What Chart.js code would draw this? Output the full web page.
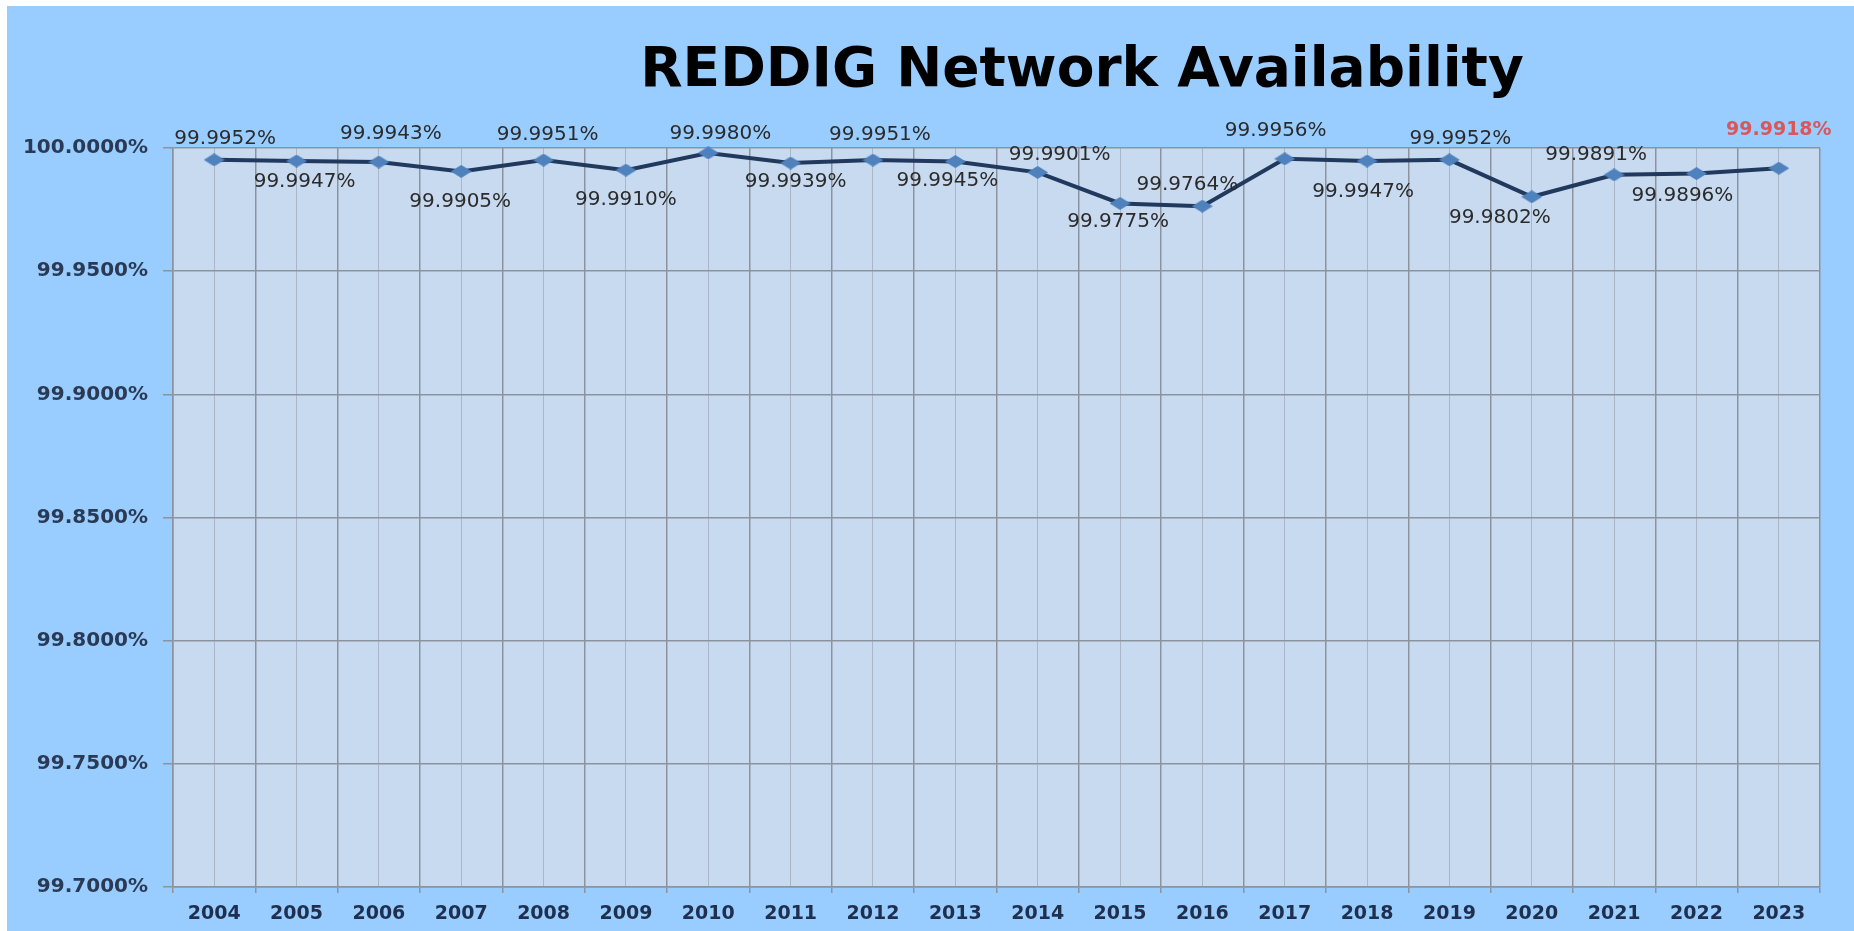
<!DOCTYPE html>
<html>
<head>
<meta charset="utf-8">
<script src="https://cdn.jsdelivr.net/npm/chart.js@4/dist/chart.umd.min.js"></script>
<style>
  html, body { margin: 0; padding: 0; background: #ffffff; width: 1854px; height: 931px; overflow: hidden; }
  #wrap { position: absolute; left: 7px; top: 6px; width: 1847px; height: 925px; background: #99CCFF; }
  canvas { display: block; }
</style>
</head>
<body>
<div id="wrap"><canvas id="c" width="1847" height="925"></canvas></div>
<script>
// ---- data ----
const years = ['2004','2005','2006','2007','2008','2009','2010','2011','2012','2013',
               '2014','2015','2016','2017','2018','2019','2020','2021','2022','2023'];
const availability = [99.9952, 99.9947, 99.9943, 99.9905, 99.9951, 99.9910, 99.9980, 99.9939, 99.9951, 99.9945,
                      99.9901, 99.9775, 99.9764, 99.9956, 99.9947, 99.9952, 99.9802, 99.9891, 99.9896, 99.9918];
const yMin = 99.70, yMax = 100.00, yStep = 0.05;
const titleText = 'REDDIG Network Availability';

// label placement (offset of label centre from its point, px)
const labelDx = [11, 8, 12, -1, 4, 0, 12, 5, 7, -8, 22, -2, -15, -9, -4, 11, -32, -18, -14, 0];
const labelDy = [-21, 21, -28, 30, -25, 30, -19, 19, -25, 19, -18, 18, -21, -28, 31, -21, 21, -20, 22, -38];

// diamond marker
const diamond = document.createElement('canvas');
diamond.width = 21; diamond.height = 13;
(function(){
  const g = diamond.getContext('2d');
  g.fillStyle = '#4F81BD';
  g.beginPath();
  g.moveTo(10.5, 0); g.lineTo(21, 6.5); g.lineTo(10.5, 13); g.lineTo(0, 6.5); g.closePath();
  g.fill();
})();

const plotBg = {
  id: 'plotBg',
  beforeDraw(chart) {
    const {ctx, chartArea: a} = chart;
    ctx.save();
    ctx.fillStyle = '#C8DAF0';
    ctx.fillRect(a.left, a.top, a.right - a.left, a.bottom - a.top);
    ctx.restore();
  }
};

const titleShift = {
  id: 'titleShift',
  afterLayout(chart) {
    const t = chart.titleBlock;
    if (!t) return;
    const w = t.right - t.left;
    const cx = 1075;
    t.left = cx - w / 2;
    t.right = cx + w / 2;
  }
};

const dataLabels = {
  id: 'dataLabels',
  afterDatasetsDraw(chart) {
    const {ctx} = chart;
    const meta = chart.getDatasetMeta(0);
    const vals = chart.data.datasets[0].data;
    ctx.save();
    ctx.textAlign = 'center';
    ctx.textBaseline = 'middle';
    meta.data.forEach((pt, i) => {
      const last = i === vals.length - 1;
      ctx.font = (last ? 'bold 19px' : '20px') + ' "DejaVu Sans"';
      ctx.fillStyle = last ? '#D9575A' : '#2B2B2B';
      ctx.fillText(vals[i].toFixed(4) + '%', pt.x + labelDx[i], pt.y + labelDy[i]);
    });
    ctx.restore();
  }
};

new Chart(document.getElementById('c'), {
  type: 'line',
  data: {
    labels: years,
    datasets: [{
      data: availability,
      borderColor: '#22395E',
      borderWidth: 4,
      tension: 0,
      pointStyle: diamond,
      pointRadius: 8,
      pointHoverRadius: 8,
      pointBackgroundColor: '#4F81BD',
      pointBorderColor: '#4F81BD',
      clip: false
    }]
  },
  options: {
    responsive: false,
    animation: false,
    events: [],
    layout: { padding: { top: 33, right: 34, bottom: 0, left: 0 } },
    plugins: {
      legend: { display: false },
      tooltip: { enabled: false },
      title: {
        display: true,
        text: titleText,
        color: '#000000',
        font: { family: '"DejaVu Sans"', size: 55, weight: 'bold' },
        padding: { top: 0, bottom: 43 }
      }
    },
    scales: {
      x: {
        type: 'category',
        offset: true,
        grid: { offset: true, color: '#8C939E', lineWidth: 1.5, tickLength: 6, drawOnChartArea: true },
        border: { color: '#8C939E', width: 1.5 },
        ticks: { color: '#1F2F4E', font: { family: '"DejaVu Sans"', size: 19, weight: 'bold' }, padding: 10, maxRotation: 0, autoSkip: false },
        afterFit(s) { s.height = 44; }
      },
      xMinor: {
        type: 'category',
        position: 'bottom',
        offset: true,
        grid: { offset: false, color: '#AAB6C8', lineWidth: 1, drawTicks: false },
        border: { display: false },
        ticks: { display: false },
        afterFit(s) { s.height = 0; }
      },
      y: {
        min: yMin,
        max: yMax,
        grid: { color: '#8C939E', lineWidth: 1.5, tickLength: 10 },
        border: { color: '#8C939E', width: 1.5 },
        ticks: {
          stepSize: yStep,
          color: '#2A3A55',
          padding: 15,
          font: { family: '"DejaVu Sans"', size: 20, weight: 'bold' },
          callback: v => Number(v).toFixed(4) + '%'
        },
        afterFit(s) { s.width = 166; }
      }
    }
  },
  plugins: [plotBg, titleShift, dataLabels]
});
</script>
</body>
</html>
